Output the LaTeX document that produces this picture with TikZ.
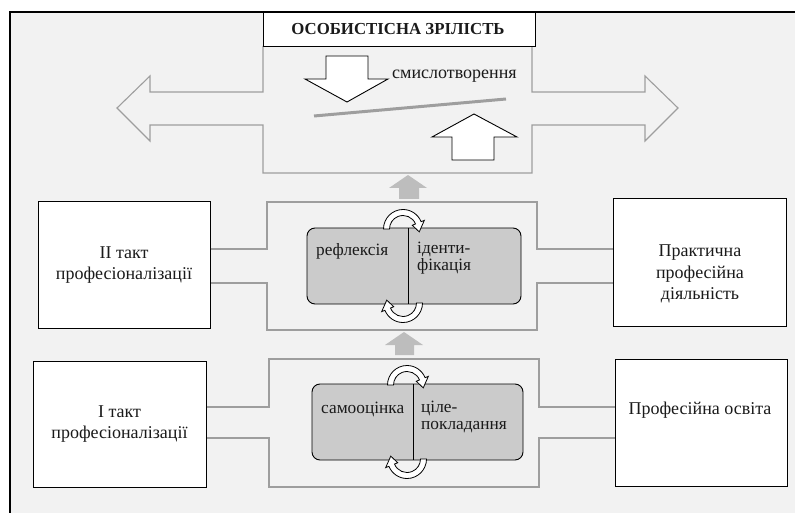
\documentclass[tikz,border=0pt]{standalone}
\usepackage{fontspec}
\setmainfont{Liberation Serif}
\definecolor{bgc}{HTML}{F2F2F2}
\definecolor{linec}{HTML}{9E9E9E}
\definecolor{tipc}{HTML}{BDBDBD}
\definecolor{rectc}{HTML}{CBCBCB}
\definecolor{txt}{HTML}{1A1A1A}
\begin{document}
\begin{tikzpicture}[x=1pt,y=-1pt,
  wbox/.style={draw=black, line width=1pt, fill=white, inner sep=0pt},
  btxt/.style={text=txt, align=center, inner sep=0pt, font=\fontsize{18}{21.5}\selectfont},
  conn/.style={draw=linec, line width=1.1pt},
  grect/.style={draw=black, line width=0.9pt, fill=rectc, rounded corners=8pt},
  lbl/.style={text=txt, align=left, inner sep=0pt, anchor=west, font=\fontsize{17.3}{16.5}\selectfont},
  bigarr/.style={draw=black, line width=0.9pt, fill=white},
  smallarr/.style={fill=tipc, draw=none},
  cyc/.style={draw=black, line width=0.8pt, fill=white},
  toparc/.pic={
    \draw[cyc] (180:19.5) arc[start angle=180,end angle=338,radius=19.5] -- (338:23) -- (10:16.5) -- (338:10) -- (338:13.5) arc[start angle=338,end angle=180,radius=13.5] -- cycle;
  },
  botarc/.pic={
    \draw[cyc] (0:19.5) arc[start angle=0,end angle=158,radius=19.5] -- (158:23) -- (190:16.5) -- (158:10) -- (158:13.5) arc[start angle=158,end angle=0,radius=13.5] -- cycle;
  }]
\useasboundingbox (0,0) rectangle (795,513);
\fill[white] (0,0) rectangle (795,513);
\fill[bgc] (10,12) rectangle (795,513);
\draw[line width=2.2pt] (10,513) -- (10,12) -- (795,12);

% top section
\draw[conn] (263,46) -- (263,92) -- (150,92) -- (150,76) -- (117,108) -- (150,141) -- (150,125) -- (263,125) -- (263,173) -- (532,173) -- (532,125) -- (645,125) -- (645,141) -- (678,108) -- (645,76) -- (645,92) -- (532,92) -- (532,46);
\node[wbox, minimum width=272, minimum height=34, anchor=north west] (title) at (263,12) {};
\node[text=txt, inner sep=0pt, font=\fontsize{16.8}{18}\selectfont\bfseries] (titletxt) at (398,29) {ОСОБИСТІСНА ЗРІЛІСТЬ};
\draw[bigarr] (326,56) -- (368,56) -- (368,79) -- (388,79) -- (347,102) -- (305,79) -- (326,79) -- cycle;
\draw[bigarr] (452,160) -- (452,137) -- (432,137) -- (474,114) -- (517,137) -- (494,137) -- (494,160) -- cycle;
\draw[draw=linec, line width=3pt] (314,116) -- (506,99);
\node[lbl, font=\fontsize{18}{18}\selectfont] (smysl) at (392,76) {смислотворення};

% small gray arrows
\fill[smallarr] (399,199) -- (399,188) -- (389,188) -- (408,175) -- (427,188) -- (419,188) -- (419,199) -- cycle;
\fill[smallarr] (395,355) -- (395,345) -- (385,345) -- (404,332) -- (423,345) -- (414,345) -- (414,355) -- cycle;

% middle section
\node[wbox, minimum width=172, minimum height=126] (II) at (124,265) {};
\node[btxt] (IItxt) at (II.center) {ІІ такт\\професіоналізації};
\node[wbox, minimum width=173, minimum height=127] (prak) at (699.5,262.5) {};
\node[btxt] (praktxt) at (700,274) {Практична\\професійна\\діяльність};
\draw[conn] (II.east |- 0,249) -- (267,249) -- (267,202) -- (537,202) -- (537,249) -- (prak.west |- 0,249);
\draw[conn] (prak.west |- 0,283) -- (537,283) -- (537,330) -- (267,330) -- (267,283) -- (II.east |- 0,283);
\draw[grect] (307,228) rectangle (521,304);
\draw[line width=0.9pt] (408,228) -- (408,304);
\node[lbl] (refl) at (316,251) {рефлексія};
\node[lbl] (ident) at (417,258) {іденти-\\фікація};
\pic at (403,229) {toparc};
\pic at (403,303) {botarc};

% lower section
\node[wbox, minimum width=173, minimum height=126] (I) at (119.5,424) {};
\node[btxt] (Itxt) at (I.center) {І такт\\професіоналізації};
\node[wbox, minimum width=172, minimum height=127] (osv) at (701,422.5) {};
\node[btxt] (osvtxt) at (700,410) {Професійна освіта};
\draw[conn] (I.east |- 0,407) -- (269,407) -- (269,359) -- (539,359) -- (539,407) -- (osv.west |- 0,407);
\draw[conn] (osv.west |- 0,438) -- (539,438) -- (539,487) -- (269,487) -- (269,438) -- (I.east |- 0,438);
\draw[grect] (312,384) rectangle (523,460);
\draw[line width=0.9pt] (413,384) -- (413,460);
\node[lbl] (samo) at (321,409) {самооцінка};
\node[lbl] (tsil) at (421,417) {ціле-\\покладання};
\pic at (407,385) {toparc};
\pic at (407,459) {botarc};
\end{tikzpicture}
\end{document}
